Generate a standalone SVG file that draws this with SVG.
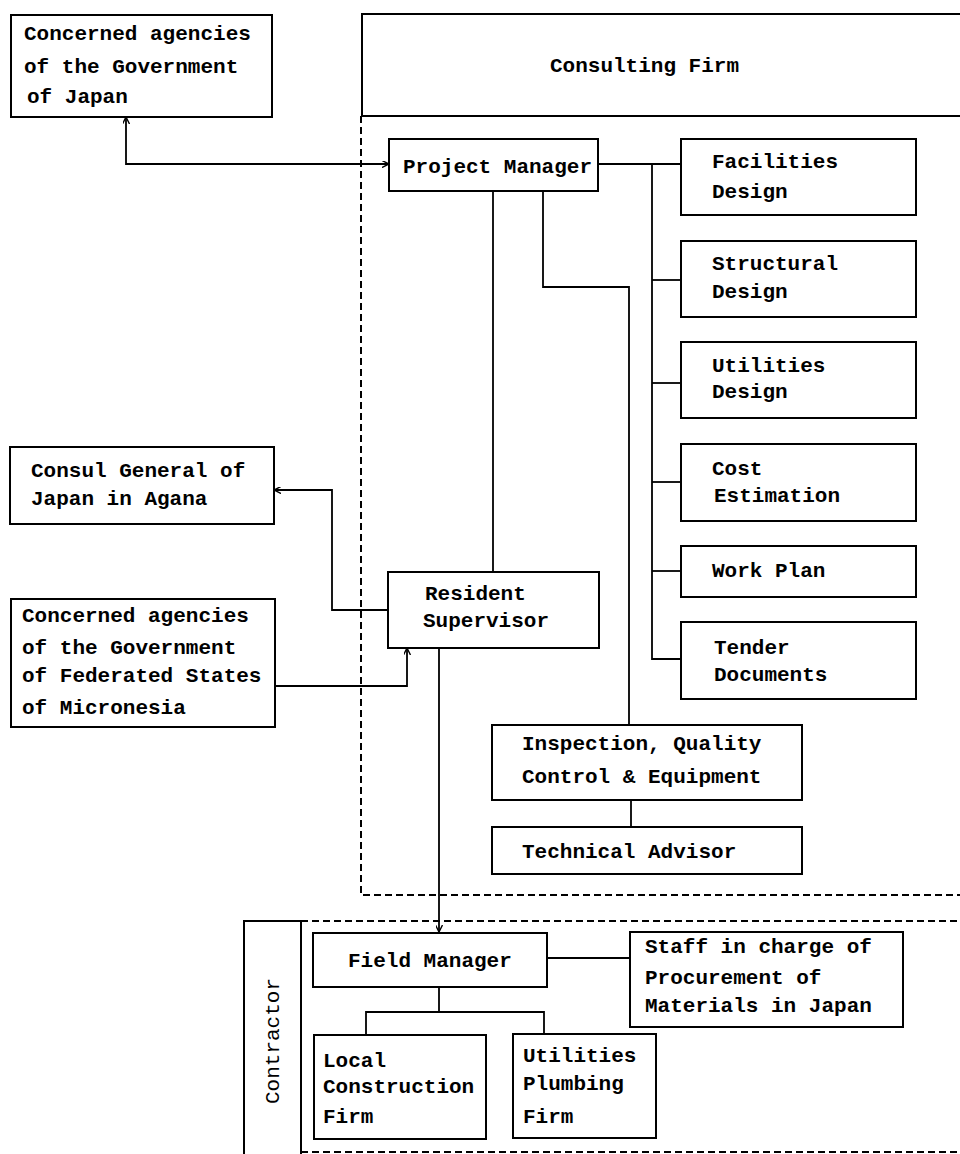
<svg xmlns="http://www.w3.org/2000/svg" width="960" height="1154" viewBox="0 0 960 1154">
<defs>
<style>
.box{fill:#fff;stroke:#000;stroke-width:2}
.t{font-family:"Liberation Mono","DejaVu Sans Mono",monospace;font-size:21px;font-weight:bold;letter-spacing:0px;fill:#000}
.c{fill:none;stroke:#000;stroke-width:1.8}
.d{fill:none;stroke:#000;stroke-width:2;stroke-dasharray:7 4}
.s{fill:none;stroke:#000;stroke-width:2}
</style>
<marker id="ah" viewBox="0 0 10 10" refX="10" refY="5" markerWidth="7" markerHeight="7" orient="auto-start-reverse" markerUnits="userSpaceOnUse">
<path d="M0,0 L10,5 L0,10" fill="none" stroke="#000" stroke-width="2"/>
</marker>
</defs>
<rect width="960" height="1154" fill="#fff"/>

<g id="consulting-firm">
<path class="s" d="M960,14 H362 V116 H960"/>
<path class="d" d="M361,116 V895 H960"/>
<text class="t" x="550" y="72">Consulting Firm</text>
</g>

<g id="contractor">
<path class="s" d="M244,1154 V921 H301 V1154"/>
<path class="d" d="M301,921 H960"/>
<path class="d" d="M301,1152 H960" stroke="#aaa" stroke-width="1"/>
<text class="t" transform="translate(279,1041) rotate(-90)" text-anchor="middle" style="font-weight:normal">Contractor</text>
</g>

<g id="connectors">
<path class="c" d="M126,117 V164 H389" marker-start="url(#ah)" marker-end="url(#ah)"/>
<path class="c" d="M598,164 H681"/>
<path class="c" d="M652,164 V659 H681"/>
<path class="c" d="M652,280 H681"/>
<path class="c" d="M652,383 H681"/>
<path class="c" d="M652,482 H681"/>
<path class="c" d="M652,571 H681"/>
<path class="c" d="M493,191 V572"/>
<path class="c" d="M543,191 V287 H629 V725"/>
<path class="c" d="M388,610 H332 V490 H274" marker-end="url(#ah)"/>
<path class="c" d="M275,686 H407 V648" marker-end="url(#ah)"/>
<path class="c" d="M439,648 V932" marker-end="url(#ah)"/>
<path class="c" d="M631,800 V827"/>
<path class="c" d="M547,958 H630"/>
<path class="c" d="M439,987 V1012"/>
<path class="c" d="M366,1035 V1012 H544 V1034"/>
</g>

<g id="gov-japan">
<rect class="box" x="11" y="15" width="261" height="102"/>
<text class="t" x="24" y="40">Concerned agencies</text>
<text class="t" x="24" y="73">of the Government</text>
<text class="t" x="27" y="103">of Japan</text>
</g>

<g id="project-manager">
<rect class="box" x="389" y="139" width="209" height="52"/>
<text class="t" x="403" y="173">Project Manager</text>
</g>

<g id="facilities-design">
<rect class="box" x="681" y="139" width="235" height="76"/>
<text class="t" x="712" y="168">Facilities</text>
<text class="t" x="712" y="198">Design</text>
</g>

<g id="structural-design">
<rect class="box" x="681" y="241" width="235" height="76"/>
<text class="t" x="712" y="270">Structural</text>
<text class="t" x="712" y="298">Design</text>
</g>

<g id="utilities-design">
<rect class="box" x="681" y="342" width="235" height="76"/>
<text class="t" x="712" y="372">Utilities</text>
<text class="t" x="712" y="398">Design</text>
</g>

<g id="cost-estimation">
<rect class="box" x="681" y="444" width="235" height="77"/>
<text class="t" x="712" y="475">Cost</text>
<text class="t" x="714" y="502">Estimation</text>
</g>

<g id="work-plan">
<rect class="box" x="681" y="546" width="235" height="51"/>
<text class="t" x="712" y="577">Work Plan</text>
</g>

<g id="tender-documents">
<rect class="box" x="681" y="622" width="235" height="77"/>
<text class="t" x="714" y="654">Tender</text>
<text class="t" x="714" y="681">Documents</text>
</g>

<g id="consul-general">
<rect class="box" x="10" y="447" width="264" height="77"/>
<text class="t" x="31" y="477">Consul General of</text>
<text class="t" x="31" y="505">Japan in Agana</text>
</g>

<g id="resident-supervisor">
<rect class="box" x="388" y="572" width="211" height="76"/>
<text class="t" x="425" y="600">Resident</text>
<text class="t" x="423" y="627">Supervisor</text>
</g>

<g id="gov-fsm">
<rect class="box" x="11" y="599" width="264" height="128"/>
<text class="t" x="22" y="622">Concerned agencies</text>
<text class="t" x="22" y="654">of the Government</text>
<text class="t" x="22" y="682">of Federated States</text>
<text class="t" x="22" y="714">of Micronesia</text>
</g>

<g id="inspection">
<rect class="box" x="492" y="725" width="310" height="75"/>
<text class="t" x="522" y="750">Inspection, Quality</text>
<text class="t" x="522" y="783">Control &amp; Equipment</text>
</g>

<g id="technical-advisor">
<rect class="box" x="492" y="827" width="310" height="47"/>
<text class="t" x="522" y="858">Technical Advisor</text>
</g>

<g id="field-manager">
<rect class="box" x="313" y="933" width="234" height="54"/>
<text class="t" x="348" y="967">Field Manager</text>
</g>

<g id="staff-procurement">
<rect class="box" x="630" y="932" width="273" height="95"/>
<text class="t" x="645" y="953">Staff in charge of</text>
<text class="t" x="645" y="984">Procurement of</text>
<text class="t" x="645" y="1012">Materials in Japan</text>
</g>

<g id="local-construction">
<rect class="box" x="314" y="1035" width="172" height="104"/>
<text class="t" x="323" y="1067">Local</text>
<text class="t" x="323" y="1093">Construction</text>
<text class="t" x="323" y="1123">Firm</text>
</g>

<g id="utilities-plumbing">
<rect class="box" x="513" y="1034" width="143" height="104"/>
<text class="t" x="523" y="1062">Utilities</text>
<text class="t" x="523" y="1090">Plumbing</text>
<text class="t" x="523" y="1123">Firm</text>
</g>
</svg>
